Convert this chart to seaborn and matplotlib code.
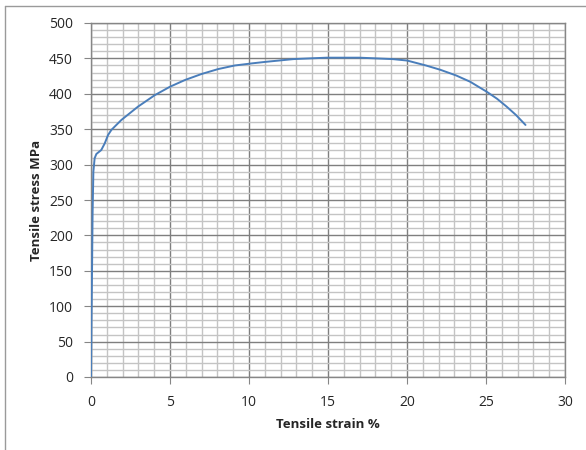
import matplotlib
matplotlib.use("Agg")
import matplotlib.pyplot as plt
import numpy as np
import pandas as pd
import seaborn as sns
from matplotlib.lines import Line2D

# values
strain = [0.0, 0.03, 0.07, 0.1, 0.15, 0.23, 0.34, 0.65, 0.87, 1.08, 1.29, 1.92,
          2.97, 4.03, 5.0, 5.95, 7.0, 8.06, 9.1, 10.2, 11.0, 12.8, 14.9, 17.0, 19.1,
          20.0, 21.2, 22.1, 23.1, 24.0, 25.04, 25.7, 26.3, 26.9, 27.5]
stress = [0, 80, 160, 230, 290, 309, 315, 320.6, 330, 341.8, 349, 363,
          381.8, 398, 410, 419.5, 428, 435, 440, 443, 445, 449, 451, 451, 449,
          447, 440, 434, 426, 417, 403, 393, 382, 370, 356]

df = pd.DataFrame({"strain": strain, "stress": stress})

sns.set_style("white")
plt.rcParams["font.family"] = ["Open Sans", "DejaVu Sans"]

fig = plt.figure(figsize=(5.86, 4.5), dpi=100)
ax = fig.add_axes([91 / 586, 1 - 377 / 450, (565 - 91) / 586, (377 - 23) / 450])

sns.lineplot(data=df, x="strain", y="stress", ax=ax, color="#4a7ebb", linewidth=1.4,
             sort=False, zorder=3)

ax.set_xlim(0, 30)
ax.set_ylim(0, 500)
ax.set_xticks(np.arange(0, 31, 5))
ax.set_yticks(np.arange(0, 501, 50))
ax.set_xticks(np.arange(0, 31, 1), minor=True)
ax.set_yticks(np.arange(0, 501, 10), minor=True)
ax.grid(which="major", color="#7f7f7f", linewidth=1.0)
ax.grid(which="minor", color="#c4c4c4", linewidth=1.0)
ax.set_axisbelow(True)

for s in ax.spines.values():
    s.set_color("#868686")
    s.set_linewidth(1.0)

ax.tick_params(which="major", direction="out", length=5, color="#868686",
               labelsize=10, pad=8, left=True, bottom=True)
ax.tick_params(which="minor", length=0)

ax.set_xlabel("Tensile strain %", fontsize=9.5, fontweight="bold", labelpad=6)
ax.set_ylabel("Tensile stress MPa", fontsize=9.5, fontweight="bold", labelpad=4)

# thin frame lines at top and left of the picture
fig.add_artist(Line2D([5 / 586, 1], [1 - 6 / 450, 1 - 6 / 450], color="#9a9a9a",
                      linewidth=1.0, transform=fig.transFigure))
fig.add_artist(Line2D([5 / 586, 5 / 586], [0, 1 - 6 / 450], color="#9a9a9a",
                      linewidth=1.0, transform=fig.transFigure))

fig.savefig("out.png", dpi=100)
